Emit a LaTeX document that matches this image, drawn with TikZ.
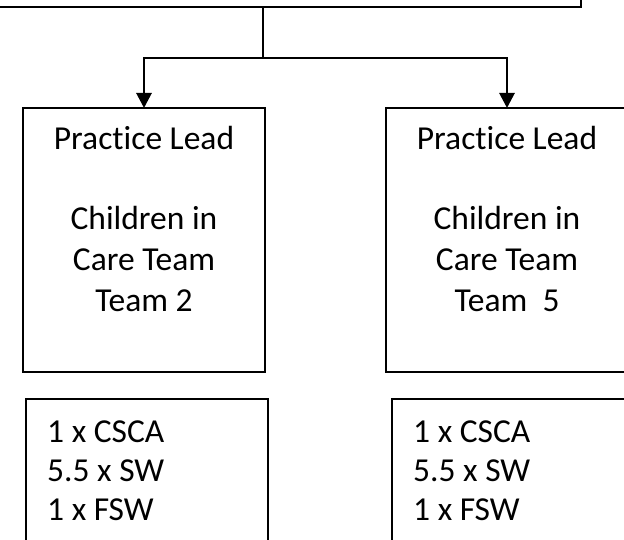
\documentclass[tikz,border=0pt]{standalone}
\usepackage{fontspec}
\setmainfont{Carlito}[Ligatures=NoCommon]
\usetikzlibrary{arrows.meta}
\tikzset{
  box/.style={draw=black, line width=1.3pt, inner sep=0pt, outer sep=0pt, anchor=north west},
  conn/.style={draw=black, line width=2.8pt},
  arr/.style={conn, -{Triangle[length=15pt,width=15pt]}},
  txt/.style={anchor=base, inner sep=0pt, font=\fontsize{33.5}{40}\selectfont},
  ltxt/.style={anchor=base west, inner sep=0pt, font=\fontsize{33.5}{40}\selectfont}
}
\begin{document}
\begin{tikzpicture}[x=1pt,y=-1pt]
\useasboundingbox (0,0) rectangle (624,540);
\clip (0,0) rectangle (624,540);
% top box (mostly off the page)
\node[box, minimum width=700pt, minimum height=80pt, anchor=south east] (top) at (581,7) {};
% practice lead boxes
\node[box, minimum width=242pt, minimum height=264pt] (pl2) at (23,108) {};
\node[box, minimum width=242pt, minimum height=264pt] (pl5) at (386,108) {};
% staff boxes
\node[box, minimum width=242pt, minimum height=200pt] (st2) at (26,399) {};
\node[box, minimum width=242pt, minimum height=200pt] (st5) at (392,399) {};
% connectors
\coordinate (j) at (263,58);
\draw[conn] (top.south -| j) -- (j);
\draw[arr] (j) -| (pl2.north);
\draw[arr] (j) -| (pl5.north);
% texts left
\node[txt] (a1) at (144,150) {Practice Lead};
\node[txt] (a2) at (144,230) {Children in};
\node[txt] (a3) at (144,271) {Care Team};
\node[txt] (a4) at (144,311) {Team 2};
% texts right
\node[txt] (b1) at (507,150) {Practice Lead};
\node[txt] (b2) at (507,230) {Children in};
\node[txt] (b3) at (507,271) {Care Team};
\node[txt] (b4) at (507,311) {Team\ \ 5};
% staff texts
\node[ltxt] (c1) at (47,442) {1 x CSCA};
\node[ltxt] (c2) at (47,481) {5.5 x SW};
\node[ltxt] (c3) at (47,520) {1 x FSW};
\node[ltxt] (d1) at (413,442) {1 x CSCA};
\node[ltxt] (d2) at (413,481) {5.5 x SW};
\node[ltxt] (d3) at (413,520) {1 x FSW};
\end{tikzpicture}
\end{document}
